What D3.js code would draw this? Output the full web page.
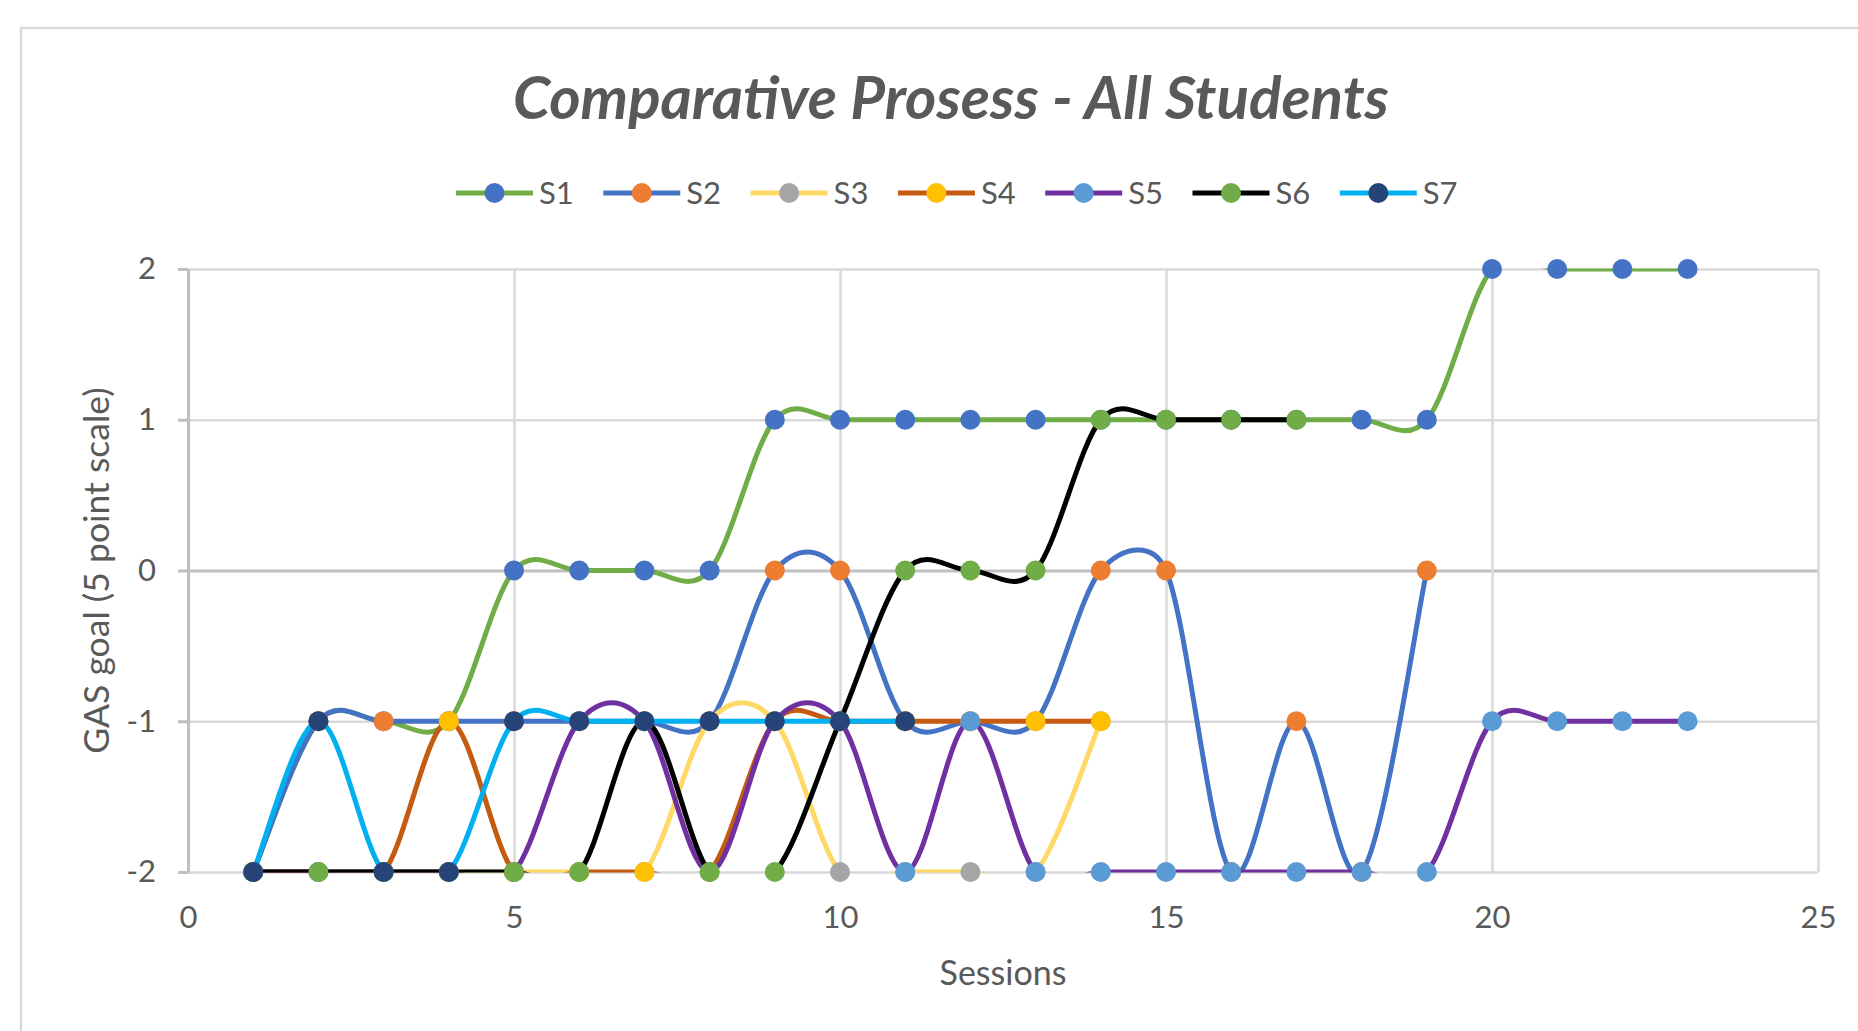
<!DOCTYPE html>
<html>
<head>
<meta charset="utf-8">
<script src="https://cdn.jsdelivr.net/npm/d3@7"></script>
<style>
  html, body { margin: 0; padding: 0; background: #ffffff; }
  svg { display: block; }
  text { font-family: Lato, "Open Sans", sans-serif; fill: #595959; }
</style>
</head>
<body>
<svg id="chart" width="1858" height="1031"></svg>
<script>
// ---------- data ----------
const chartTitle = "Comparative Prosess - All Students";
const xAxisTitle = "Sessions";
const yAxisTitle = "GAS goal (5 point scale)";
const seriesNames = ["S1", "S2", "S3", "S4", "S5", "S6", "S7"];
const sessions = [1, 2, 3, 4, 5, 6, 7, 8, 9, 10, 11, 12, 13, 14, 15, 16, 17, 18, 19, 20, 21, 22, 23];
const s1 = [-2, -1, -1, -1, 0, 0, 0, 0, 1, 1, 1, 1, 1, 1, 1, 1, 1, 1, 1, 2, 2, 2, 2];
const s2 = [-2, -1, -1, -1, -1, -1, -1, -1, 0, 0, -1, -1, -1, 0, 0, -2, -1, -2, 0];
const s3 = [-2, -2, -2, -2, -2, -2, -2, -1, -1, -2, -2, -2, -2, -1];
const s4 = [-2, -2, -2, -1, -2, -2, -2, -2, -1, -1, -1, -1, -1, -1];
const s5 = [-2, -2, -2, -2, -2, -1, -1, -2, -1, -1, -2, -1, -2, -2, -2, -2, -2, -2, -2, -1, -1, -1, -1];
const s6 = [-2, -2, -2, -2, -2, -2, -1, -2, -2, -1, 0, 0, 0, 1, 1, 1, 1];
const s7 = [-2, -1, -2, -2, -1, -1, -1, -1, -1, -1, -1];
const xTicks = [0, 5, 10, 15, 20, 25];
const yTicks = [-2, -1, 0, 1, 2];
const lineColors = ["#70AD47", "#4472C4", "#FFD966", "#C55A11", "#7030A0", "#000000", "#00B0F0"];
const markerColors = ["#4472C4", "#ED7D31", "#A5A5A5", "#FFC000", "#5B9BD5", "#70AD47", "#264478"];

const seriesValues = [s1, s2, s3, s4, s5, s6, s7];
const series = seriesNames.map((name, i) => ({
  name,
  lineColor: lineColors[i],
  markerColor: markerColors[i],
  points: seriesValues[i].map((v, j) => ({ x: sessions[j], y: v }))
}));

// ---------- smoothed curve (spreadsheet-style Bezier smoothing) ----------
function SmoothCurve(context) { this._context = context; }
SmoothCurve.prototype = {
  areaStart() {}, areaEnd() {},
  lineStart() { this._pts = []; },
  point(px, py) { this._pts.push([+px, +py]); },
  lineEnd() {
    const p = this._pts, n = p.length, c = this._context;
    if (!n) return;
    c.moveTo(p[0][0], p[0][1]);
    const clamp = (v, lim) => {
      const len = Math.hypot(v[0], v[1]);
      return len > lim && len > 0 ? [v[0] * lim / len, v[1] * lim / len] : v;
    };
    for (let i = 0; i < n - 1; i++) {
      const p0 = p[Math.max(0, i - 1)], p1 = p[i], p2 = p[i + 1], p3 = p[Math.min(n - 1, i + 2)];
      const seg = Math.hypot(p2[0] - p1[0], p2[1] - p1[1]);
      const v1 = clamp([(p2[0] - p0[0]) / 6, (p2[1] - p0[1]) / 6], seg * 0.5);
      const v2 = clamp([(p3[0] - p1[0]) / 6, (p3[1] - p1[1]) / 6], seg * 0.5);
      c.bezierCurveTo(p1[0] + v1[0], p1[1] + v1[1], p2[0] - v2[0], p2[1] - v2[1], p2[0], p2[1]);
    }
  }
};
const curveSmooth = context => new SmoothCurve(context);

// ---------- layout ----------
const svg = d3.select("#chart");
const pLeft = 188, pRight = 1818, pTop = 269, pBottom = 872;
const x = d3.scaleLinear().domain([0, 25]).range([pLeft, pRight]);
const y = d3.scaleLinear().domain([-2, 2]).range([pBottom, pTop]);

svg.append("rect").attr("width", 1858).attr("height", 1031).attr("fill", "#ffffff");
// chart area border
svg.append("rect").attr("x", 21).attr("y", 28).attr("width", 1900).attr("height", 1100)
  .attr("fill", "none").attr("stroke", "#D9D9D9").attr("stroke-width", 2.5);

// title
svg.append("text").attr("x", 951).attr("y", 119).attr("text-anchor", "middle")
  .style("font-size", "60px").style("font-style", "italic").style("font-weight", "700")
  .text(chartTitle);

// gridlines
const gy = svg.append("g").attr("transform", `translate(${pLeft},0)`)
  .call(d3.axisLeft(y).tickValues(yTicks).tickSize(-(pRight - pLeft)).tickFormat(""));
gy.select(".domain").remove();
gy.selectAll(".tick line").attr("stroke", d => d === 0 ? "#BFBFBF" : "#D9D9D9").attr("stroke-width", d => d === 0 ? 3 : 2.5);

const gx = svg.append("g").attr("transform", `translate(0,${pBottom})`)
  .call(d3.axisBottom(x).tickValues(xTicks.filter(d => d !== 0)).tickSize(-(pBottom - pTop)).tickFormat(""));
gx.select(".domain").remove();
gx.selectAll(".tick line").attr("stroke", "#D9D9D9").attr("stroke-width", 2.5);

// y axis with ticks and labels
const ay = svg.append("g").attr("transform", `translate(${pLeft},0)`)
  .call(d3.axisLeft(y).tickValues(yTicks).tickSize(10).tickSizeOuter(0).tickPadding(22).tickFormat(d => String(d)));
ay.select(".domain").attr("stroke", "#BFBFBF").attr("stroke-width", 3);
ay.selectAll(".tick line").attr("stroke", "#BFBFBF").attr("stroke-width", 3);
ay.selectAll(".tick text").style("font-size", "31px").style("font-family", "Lato, sans-serif").attr("fill", "#595959");

// x axis labels
const ax = svg.append("g").attr("transform", `translate(0,${pBottom})`)
  .call(d3.axisBottom(x).tickValues(xTicks).tickSize(0).tickFormat(d => String(d)));
ax.select(".domain").remove();
ax.selectAll(".tick text").attr("y", 45).attr("dy", "0.35em")
  .style("font-size", "31px").style("font-family", "Lato, sans-serif").attr("fill", "#595959");

// axis titles
svg.append("text").attr("x", 1003).attr("y", 973).attr("dy", "0.35em").attr("text-anchor", "middle")
  .style("font-size", "34px").text(xAxisTitle);
svg.append("text").attr("transform", `translate(97,${(pTop + pBottom) / 2}) rotate(-90)`)
  .attr("dy", "0.35em").attr("text-anchor", "middle")
  .style("font-size", "35.5px").text(yAxisTitle);

// clip for lines
svg.append("clipPath").attr("id", "plotclip").append("rect")
  .attr("x", pLeft).attr("y", pTop - 0.5).attr("width", pRight - pLeft).attr("height", pBottom - pTop + 1);

const line = d3.line().x(d => x(d.x)).y(d => y(d.y)).curve(curveSmooth);

series.forEach(s => {
  const g = svg.append("g");
  g.append("path").attr("d", line(s.points)).attr("fill", "none")
    .attr("stroke", s.lineColor).attr("stroke-width", 5).attr("stroke-linecap", "round")
    .attr("clip-path", "url(#plotclip)");
  g.selectAll("circle").data(s.points).join("circle")
    .attr("cx", d => x(d.x)).attr("cy", d => y(d.y)).attr("r", 10).attr("fill", s.markerColor);
});

// legend
const legend = svg.append("g");
series.forEach((s, i) => {
  const x0 = 456 + i * 147.3, ly = 193;
  legend.append("line").attr("x1", x0).attr("x2", x0 + 77).attr("y1", ly).attr("y2", ly)
    .attr("stroke", s.lineColor).attr("stroke-width", 5);
  legend.append("circle").attr("cx", x0 + 38.5).attr("cy", ly).attr("r", 10).attr("fill", s.markerColor);
  legend.append("text").attr("x", x0 + 83).attr("y", ly).attr("dy", "0.36em")
    .style("font-size", "31px").text(s.name);
});
</script>
</body>
</html>
